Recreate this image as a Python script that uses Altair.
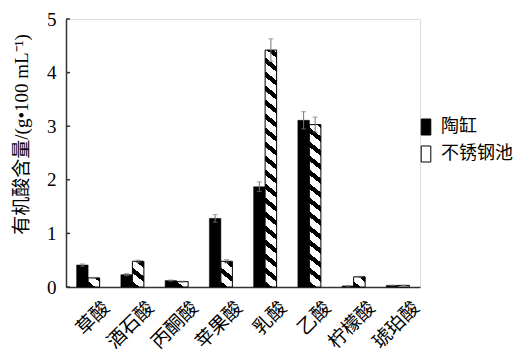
import altair as alt
import pandas as pd
import math

acids = ["草酸", "酒石酸", "丙酮酸", "苹果酸", "乳酸", "乙酸", "柠檬酸", "琥珀酸"]
series = ["陶缸", "不锈钢池"]
tao = [0.41, 0.23, 0.12, 1.28, 1.87, 3.11, 0.02, 0.03]
tao_err = [0.02, 0.02, 0.01, 0.07, 0.09, 0.16, 0.005, 0.005]
steel = [0.17, 0.48, 0.10, 0.48, 4.42, 3.03, 0.19, 0.03]
steel_err = [0.01, 0.02, 0.01, 0.03, 0.21, 0.14, 0.01, 0.005]
yticks = [0, 1, 2, 3, 4, 5]

rows = []
for i, a in enumerate(acids):
    rows.append({"acid": a, "series": series[0], "value": tao[i], "err": tao_err[i]})
    rows.append({"acid": a, "series": series[1], "value": steel[i], "err": steel_err[i]})
df = pd.DataFrame(rows)
df["lo"] = df["value"] - df["err"]
df["hi"] = df["value"] + df["err"]

W, H = 354, 268
YMAX = 5
FONT = "'Liberation Serif', 'Noto Sans CJK SC'"
CJK = "'Noto Sans CJK SC'"

x_enc = alt.X("acid:N", sort=acids, scale=alt.Scale(paddingInner=0.48, paddingOuter=0.24),
              axis=alt.Axis(title=None, labelAngle=-45, labelFontSize=19, labelFont=CJK,
                            labelColor="black", ticks=False, labelPadding=11, labelOffset=12,
                            domainColor="#333", domainWidth=1.5))
xo_enc = alt.XOffset("series:N", sort=series, scale=alt.Scale(domain=series, paddingInner=0, paddingOuter=0))
y_scale = alt.Scale(domain=[0, YMAX])

base = alt.Chart(df)

black = base.transform_filter(alt.datum.series == series[0]).mark_bar(
    stroke="black", strokeWidth=0.5).encode(
    x=x_enc, xOffset=xo_enc,
    y=alt.Y("value:Q", scale=y_scale,
            axis=alt.Axis(title="有机酸含量/(g•100 mL⁻¹)", values=yticks, grid=False,
                          tickSize=0, labelFontSize=19, labelFont=FONT, labelColor="black",
                          labelPadding=10, titleFont=FONT, titleFontSize=19,
                          titleFontWeight="normal", titleColor="black", titlePadding=15,
                          titleY=115,
                          domainColor="#333", domainWidth=1.5)),
    color=alt.Color("series:N", scale=alt.Scale(domain=series, range=["black", "white"]),
                    legend=alt.Legend(title=None, orient="none", legendX=351, legendY=99,
                                      symbolType="M-0.6,-1H0.6V1H-0.6Z", symbolSize=256,
                                      symbolStrokeColor="black", symbolStrokeWidth=1,
                                      labelFontSize=18, labelFont=CJK, labelColor="black",
                                      rowPadding=7, labelOffset=6)),
)

# hatched bars: diagonal stripes via gradient stops
PERIOD = 14.0
DROP = 9.0
FB = 0.4
px_per_unit = H / YMAX


def stripe_fill(v):
    h = v * px_per_unit
    if h < 3:
        return "white"
    r = DROP / h
    b = (1 + r) / (1 + r * r)
    a = r * b
    L = h + DROP
    segs = []
    q = 0.0
    while q < L:
        segs.append((q, min(q + FB * PERIOD, L), "black"))
        q2 = q + FB * PERIOD
        if q2 < L:
            segs.append((q2, min(q + PERIOD, L), "white"))
        q += PERIOD
    stops = []
    for q0, q1, c in reversed(segs):
        lo_o = max(0.0, 1 - q1 / L)
        hi_o = min(1.0, 1 - q0 / L)
        stops.append({"offset": round(lo_o, 5), "color": c})
        stops.append({"offset": round(hi_o, 5), "color": c})
    return {"gradient": "linear", "x1": 1, "y1": 0, "x2": round(1 - a, 5), "y2": round(b, 5),
            "stops": stops}


hatched_layers = []
for i, a in enumerate(acids):
    layer = base.transform_filter(
        (alt.datum.series == series[1]) & (alt.datum.acid == a)
    ).mark_bar(fill=stripe_fill(steel[i]), stroke="black", strokeWidth=1).encode(
        x=x_enc, xOffset=xo_enc, y=alt.Y("value:Q", scale=y_scale))
    hatched_layers.append(layer)

err_rule = base.mark_rule(color="#777", strokeWidth=1).encode(
    x=x_enc, xOffset=xo_enc, y=alt.Y("lo:Q", scale=y_scale), y2="hi:Q")
cap_hi = base.mark_tick(color="#777", thickness=1, size=5).encode(
    x=x_enc, xOffset=xo_enc, y=alt.Y("hi:Q", scale=y_scale))
cap_lo = base.mark_tick(color="#777", thickness=1, size=5).encode(
    x=x_enc, xOffset=xo_enc, y=alt.Y("lo:Q", scale=y_scale))

ticks = alt.Chart(pd.DataFrame({"t": yticks})).mark_rule(color="#333", strokeWidth=1.5).encode(
    y=alt.Y("t:Q", scale=y_scale), x=alt.value(0), x2=alt.value(4))

chart = alt.layer(black, *hatched_layers, err_rule, cap_hi, cap_lo, ticks).properties(
    width=W, height=H,
    autosize=alt.AutoSizeParams(type="none"),
    padding={"left": 58, "top": 11, "right": 100, "bottom": 67},
).configure_view(stroke=None).configure(background="white")

chart.save("out.html", embed_options={"renderer": "svg", "actions": False})
